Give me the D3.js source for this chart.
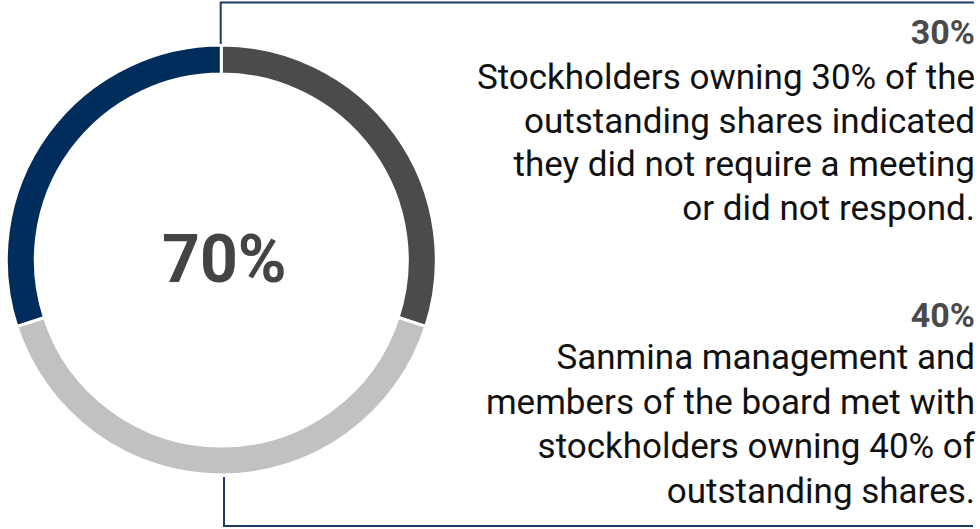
<!DOCTYPE html>
<html>
<head>
<meta charset="utf-8">
<script src="https://cdn.jsdelivr.net/npm/d3@7"></script>
<style>
  html, body { margin: 0; padding: 0; background: #fff; }
  svg { display: block; }
</style>
</head>
<body>
<svg id="chart" width="980" height="529"></svg>
<script>
// ---- data ----
const categories = ["Did not require a meeting or did not respond", "Met with management and board", "Remaining shares"];
const values = [30, 40, 30];
const colors = ["#4b4b4d", "#c2c1c0", "#002d5b"];
const centerLabel = "70%";
const block1Title = "30%";
const block1Lines = ["Stockholders owning 30% of the", "outstanding shares indicated", "they did not require a meeting", "or did not respond."];
const block2Title = "40%";
const block2Lines = ["Sanmina management and", "members of the board met with", "stockholders owning 40% of", "outstanding shares."];

const svg = d3.select("#chart");
const cx = 221.3, cy = 260, rOuter = 215, rInner = 186;

const pie = d3.pie().sort(null).value(d => d);
const arc = d3.arc().innerRadius(rInner).outerRadius(rOuter);

const g = svg.append("g").attr("transform", `translate(${cx},${cy})`);
g.selectAll("path").data(pie(values)).join("path")
  .attr("d", arc)
  .attr("fill", (d, i) => colors[i])
  .attr("stroke", "#fff")
  .attr("stroke-width", 3);

g.append("text")
  .attr("x", 3).attr("y", 22)
  .attr("text-anchor", "middle")
  .attr("font-family", "Roboto, sans-serif")
  .attr("font-weight", 700)
  .attr("font-size", 66)
  .attr("fill", "#444446")
  .text(centerLabel);

// bracket lines
const lineColor = "#1d3b66";
svg.append("path")
  .attr("d", `M220.7,44 V2.5 H974`)
  .attr("fill", "none").attr("stroke", lineColor).attr("stroke-width", 2);
svg.append("path")
  .attr("d", `M224,477 V526 H973`)
  .attr("fill", "none").attr("stroke", lineColor).attr("stroke-width", 2);

const rightX = 975;
function block(title, lines, titleY, firstY, step) {
  svg.append("text")
    .attr("x", rightX).attr("y", titleY)
    .attr("text-anchor", "end")
    .attr("font-family", "Roboto, sans-serif")
    .attr("font-weight", 700)
    .attr("font-size", 34)
    .attr("fill", "#4a4a4c")
    .text(title);
  lines.forEach((t, i) => {
    svg.append("text")
      .attr("x", rightX).attr("y", firstY + i * step)
      .attr("text-anchor", "end")
      .attr("font-family", "Roboto, sans-serif")
      .attr("font-size", 35)
      .attr("fill", "#111")
      .text(t);
  });
}
block(block1Title, block1Lines, 44, 89, 43.5);
block(block2Title, block2Lines, 327, 369, 44.7);
</script>
</body>
</html>
